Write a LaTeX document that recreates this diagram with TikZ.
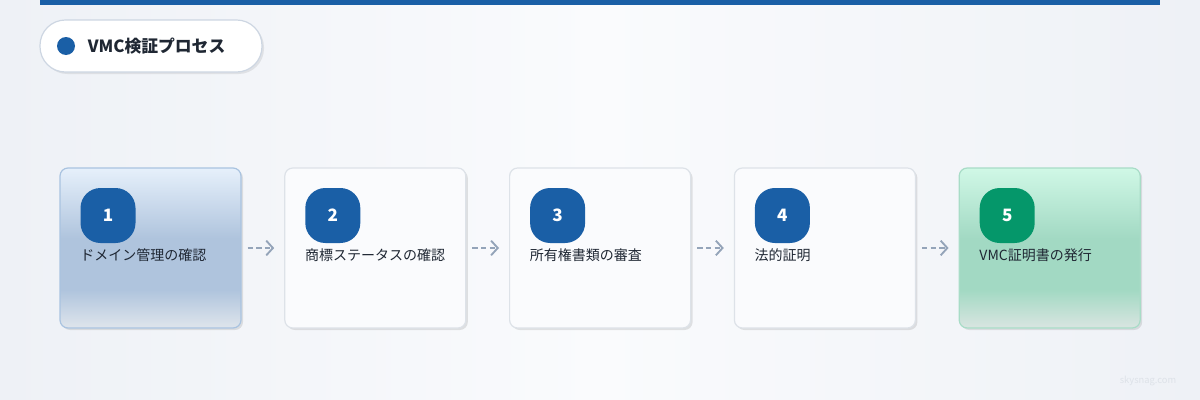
\documentclass[tikz,border=0pt]{standalone}
\usepackage{fontspec}
\setmainfont{Noto Sans CJK JP}
\usetikzlibrary{arrows.meta,shadows}
\definecolor{bluemain}{HTML}{1A5FA6}
\definecolor{greenmain}{HTML}{05976A}
\definecolor{txt}{HTML}{1F2733}
\definecolor{bordergray}{HTML}{DDE2E8}
\definecolor{arrowc}{HTML}{94A4B9}
\definecolor{cbb}{HTML}{A9C3E0}
\definecolor{cb1}{HTML}{E6F0FB}
\definecolor{cb2}{HTML}{AFC4DD}
\definecolor{cb3}{HTML}{DFE5EC}
\definecolor{cg0}{HTML}{A8DCC7}
\definecolor{cg1}{HTML}{D0F8E6}
\definecolor{cg2}{HTML}{A2D9C3}
\definecolor{cg3}{HTML}{D9E5E1}
\definecolor{bgedge}{HTML}{EEF1F6}
\definecolor{bgmid}{HTML}{FAFBFD}
\definecolor{pillborder}{HTML}{CDD6E2}
\definecolor{wmc}{HTML}{DDE2E8}
\pgfdeclareverticalshading{bluecard}{100bp}{color(0bp)=(cb3); color(25bp)=(cb3); color(37bp)=(cb2); color(53bp)=(cb2); color(75bp)=(cb1); color(100bp)=(cb1)}
\pgfdeclareverticalshading{greencard}{100bp}{color(0bp)=(cg3); color(25bp)=(cg3); color(37bp)=(cg2); color(53bp)=(cg2); color(75bp)=(cg1); color(100bp)=(cg1)}
\tikzset{
  card/.style={draw=bordergray, line width=0.9pt, rounded corners=6pt, fill=bgmid,
    minimum width=135.75pt, minimum height=120pt, inner sep=0pt,
    drop shadow={shadow xshift=1.5pt, shadow yshift=-1.5pt, opacity=0.10, fill=black}},
  cardblue/.style={card, draw=cbb, shade, shading=bluecard},
  cardgreen/.style={card, draw=cg0, shade, shading=greencard},
  badge/.style={rounded corners=15pt, minimum width=41.25pt, minimum height=41.25pt, inner sep=0pt,
    text=white, font=\fontsize{12.8pt}{14pt}\selectfont\bfseries},
  lbl/.style={anchor=west, inner sep=0pt, text=txt, font=\fontsize{10.5pt}{12pt}\selectfont},
  flow/.style={draw=arrowc, line width=1.2pt, dash pattern=on 4pt off 2.5pt,
    -{Straight Barb[length=5pt,width=11pt,line width=1.4pt]}, shorten <=4.5pt, shorten >=7.5pt},
}
\begin{document}
\begin{tikzpicture}[x=0.75pt,y=-0.75pt]
% background
\useasboundingbox (0,0) rectangle (1200,400);
\shade[left color=bgedge, right color=bgedge, middle color=bgmid] (0,0) rectangle (1200,400);
% top bar
\fill[bluemain] (40,0) rectangle (1160,5);
% title pill
\node[draw=pillborder, line width=0.9pt, fill=white, rounded corners=19pt,
  minimum width=166.5pt, minimum height=39pt, inner sep=0pt,
  drop shadow={shadow xshift=1.5pt, shadow yshift=-1.5pt, opacity=0.08, fill=black}] (title) at (151,46) {};
\fill[bluemain] (66,46) circle (6.75pt);
\node[anchor=west, inner sep=0pt, text=txt, font=\fontsize{12.6pt}{14pt}\selectfont\bfseries] (titletext) at (87.5,46) {VMC検証プロセス};
% cards
\foreach \i/\st/\lab/\bc in {1/cardblue/ドメイン管理の確認/bluemain,
  2/card/商標ステータスの確認/bluemain,
  3/card/所有権書類の審査/bluemain,
  4/card/法的証明/bluemain,
  5/cardgreen/VMC証明書の発行/greenmain}{
  \pgfmathsetmacro{\cx}{150.5+224.8*(\i-1)}
  \pgfmathsetmacro{\lx}{\cx-70.5}
  \pgfmathsetmacro{\bx}{\cx-42.5}
  \node[\st] (c\i) at (\cx,248) {};
  \node[badge, fill=\bc] (b\i) at (\bx,215.5) {\i};
  \node[lbl] (l\i) at (\lx,255.5) {\lab};
}
\foreach \a/\b in {1/2,2/3,3/4,4/5}{
  \draw[flow] (c\a) -- (c\b);
}
% watermark
\node[text=wmc, font=\fontsize{7pt}{8pt}\selectfont, inner sep=0pt] (wm) at (1148,381) {skysnag.com};
\end{tikzpicture}
\end{document}
